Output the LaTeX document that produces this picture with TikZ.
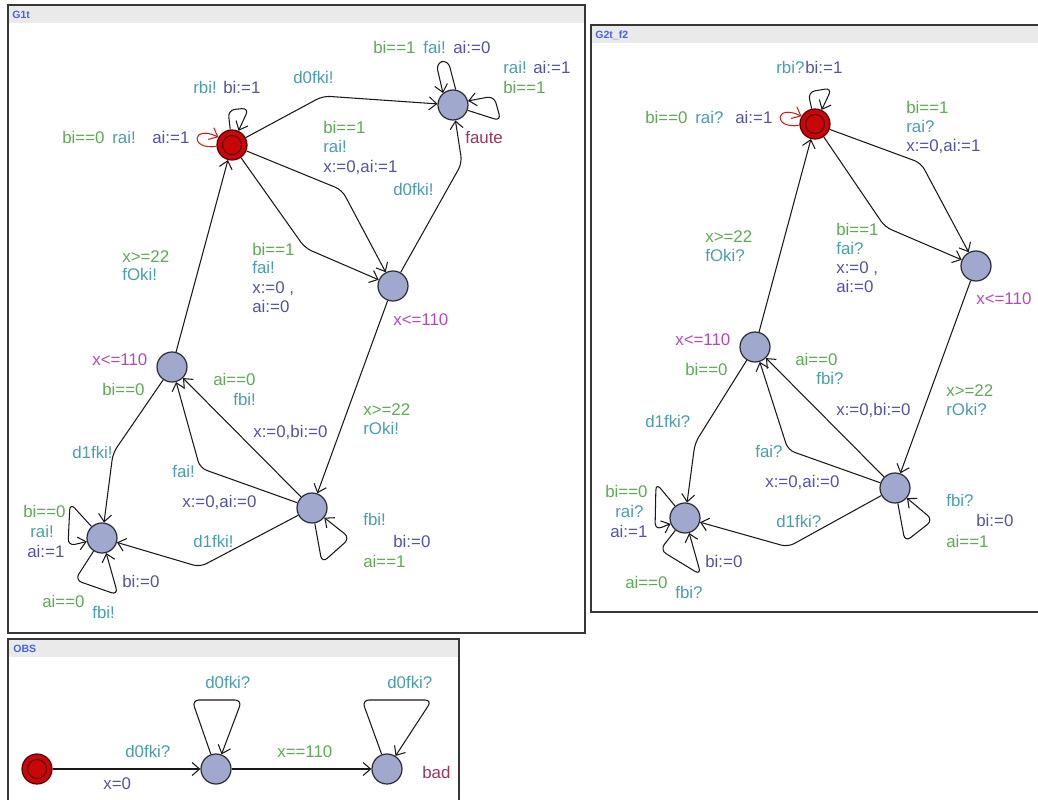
\documentclass[tikz,border=0pt]{standalone}
\usepackage{fontspec}
\setmainfont{Liberation Sans}
\usepackage{tikz}
\usetikzlibrary{arrows.meta}
\definecolor{guardgreen}{RGB}{92,170,82}
\definecolor{synccyan}{RGB}{72,158,172}
\definecolor{updblue}{RGB}{82,82,168}
\definecolor{invpink}{RGB}{180,72,184}
\definecolor{namered}{RGB}{155,52,92}
\definecolor{statefill}{RGB}{160,168,206}
\definecolor{stateline}{RGB}{45,45,55}
\definecolor{initred}{RGB}{200,8,8}
\definecolor{initline}{RGB}{90,0,0}
\definecolor{loopred}{RGB}{205,30,30}
\definecolor{edgeblack}{RGB}{25,25,25}
\definecolor{hdrgray}{RGB}{234,234,234}
\definecolor{hdrblue}{RGB}{70,100,225}
\definecolor{framegray}{RGB}{55,55,55}
\tikzset{
  loc/.style={circle, draw=stateline, fill=statefill, minimum size=0.6cm,
    inner sep=0pt, line width=0.7pt},
  initloc/.style={loc, draw=initline, fill=initred,
    path picture={\draw[initline, line width=0.6pt] (path picture bounding box.center) circle (0.19cm);}},
  trans/.style={-{Straight Barb[length=1.5mm, width=2.6mm]}, line width=0.6pt,
    color=edgeblack, rounded corners=4pt},
  redtrans/.style={trans, color=loopred},
  lab/.style={anchor=base west, inner sep=0pt, yshift=-3.3pt,
    font=\fontsize{9.6}{11}\selectfont},
  guard/.style={lab, text=guardgreen},
  sync/.style={lab, text=synccyan},
  upd/.style={lab, text=updblue},
  inv/.style={lab, text=invpink},
  locname/.style={lab, text=namered},
  panel/.style={draw=framegray, line width=0.9pt},
  header/.style={fill=hdrgray},
  ptitle/.style={anchor=west, inner sep=0pt, text=hdrblue,
    font=\fontsize{6}{7}\selectfont\bfseries}
}
\begin{document}
\begin{tikzpicture}[x=0.02cm, y=-0.02cm]
  \useasboundingbox (0,0) rectangle (1038,800);
  \clip (0,0) rectangle (1038,800);

  % ---------- G1t ----------
  \draw[panel] (8,5) rectangle (585,633);
  \fill[header] (9,6) rectangle (584,23);
  \node[ptitle] (tG1) at (12,15) {G1t};

  % locations
  \node[initloc] (A) at (232,145) {};
  \node[loc] (F) at (453,105) {};
  \node[loc] (B) at (393,286) {};
  \node[loc] (C) at (172,367) {};
  \node[loc] (D) at (312,508) {};
  \node[loc] (E) at (102,538) {};
  \node[locname] (nF) at (465,138) {faute};
  \node[inv] (iB) at (393,320) {x<=110};
  \node[inv] (iC) at (92,360) {x<=110};

  % nails
  \coordinate (kA1) at (228,110);
  \coordinate (kA2) at (249,108);
  \coordinate (kAF) at (323,96);
  \coordinate (kAB1) at (342,190);
  \coordinate (kAB2) at (305,248);
  \coordinate (kBF) at (462,163);
  \coordinate (kF1) at (448,60);
  \coordinate (kF2) at (436,63);
  \coordinate (kF3) at (501,121);
  \coordinate (kF4) at (494,96);
  \coordinate (kCE) at (113,453);
  \coordinate (kDC) at (200,468);
  \coordinate (kDE) at (200,567);
  \coordinate (kD1) at (322,563);
  \coordinate (kD2) at (350,538);
  \coordinate (kE1) at (70,503);
  \coordinate (kE2) at (68,546);
  \coordinate (kE3) at (75,580);
  \coordinate (kE4) at (118,595);

  % loops on the initial location
  \draw[trans] (A) -- (kA1) -- (kA2) -- (A);
  \node[sync] (sA1) at (193,88) {rbi!};
  \node[upd] (uA1) at (223,88) {bi:=1};
  \draw[redtrans] (A.185) .. controls +(-27,4) and +(-27,-13) .. (A.150);
  \node[guard] (gA2) at (62,138) {bi==0};
  \node[sync] (sA2) at (112,138) {rai!};
  \node[upd] (uA2) at (152,138) {ai:=1};

  % A to faute
  \draw[trans] (A) -- (kAF) -- (F);
  \node[sync] (sAF) at (293,78) {d0fki!};

  % A to B
  \draw[trans] (A) -- (kAB1) -- (B);
  \node[guard] (gAB1) at (323,128) {bi==1};
  \node[sync] (sAB1) at (323,147) {rai!};
  \node[upd] (uAB1) at (323,167) {x:=0,ai:=1};
  \draw[trans] (A) -- (kAB2) -- (B);
  \node[guard] (gAB2) at (252,250) {bi==1};
  \node[sync] (sAB2) at (252,268) {fai!};
  \node[upd] (uAB2) at (252,288) {x:=0 ,};
  \node[upd] (vAB2) at (252,307) {ai:=0};

  % B to faute
  \draw[trans] (B) -- (kBF) -- (F);
  \node[sync] (sBF) at (393,190) {d0fki!};

  % loops on faute
  \draw[trans] (F.80) -- (kF1) -- (kF2) -- (F.130);
  \node[guard] (gF1) at (373,48) {bi==1};
  \node[sync] (sF1) at (423,48) {fai!};
  \node[upd] (uF1) at (453,48) {ai:=0};
  \draw[trans] (F.-20) -- (kF3) -- (kF4) -- (F.15);
  \node[sync] (sF2) at (503,68) {rai!};
  \node[upd] (uF2) at (533,68) {ai:=1};
  \node[guard] (gF2) at (503,88) {bi==1};

  % B to D
  \draw[trans] (B) -- (D);
  \node[guard] (gBD) at (363,410) {x>=22};
  \node[sync] (sBD) at (363,429) {rOki!};

  % C to A
  \draw[trans] (C) -- (A);
  \node[guard] (gCA) at (122,257) {x>=22};
  \node[sync] (sCA) at (122,275) {fOki!};

  % C to E
  \draw[trans] (C) -- (kCE) -- (E);
  \node[guard] (gCE) at (102,390) {bi==0};
  \node[sync] (sCE) at (72,453) {d1fki!};

  % D to C
  \draw[trans] (D) -- (C);
  \node[guard] (gDC1) at (213,380) {ai==0};
  \node[sync] (sDC1) at (233,400) {fbi!};
  \node[upd] (uDC1) at (253,432) {x:=0,bi:=0};
  \draw[trans] (D) -- (kDC) -- (C);
  \node[sync] (sDC2) at (172,472) {fai!};
  \node[upd] (uDC2) at (182,502) {x:=0,ai:=0};

  % D to E
  \draw[trans] (D) -- (kDE) -- (E);
  \node[sync] (sDE) at (193,542) {d1fki!};

  % loop on D
  \draw[trans] (D) -- (kD1) -- (kD2) -- (D);
  \node[sync] (sD) at (363,520) {fbi!};
  \node[upd] (uD) at (393,542) {bi:=0};
  \node[guard] (gD) at (363,562) {ai==1};

  % loops on E
  \draw[trans] (E) -- (kE1) -- (kE2) -- (E);
  \node[guard] (gE1) at (23,512) {bi==0};
  \node[sync] (sE1) at (30,532) {rai!};
  \node[upd] (uE1) at (27,552) {ai:=1};
  \draw[trans] (E) -- (kE3) -- (kE4) -- (E);
  \node[upd] (uE2) at (122,582) {bi:=0};
  \node[guard] (gE2) at (42,602) {ai==0};
  \node[sync] (sE2) at (92,613) {fbi!};

  % ---------- G2t_f2 ----------
  \draw[panel] (591,25) rectangle (1050,612);
  \fill[header] (592,26) rectangle (1050,43);
  \node[ptitle] (tG2) at (595,35) {G2t\_f2};

  % locations
  \node[initloc] (A2) at (815,124) {};
  \node[loc] (B2) at (976,266) {};
  \node[loc] (C2) at (755,347) {};
  \node[loc] (D2) at (895,488) {};
  \node[loc] (E2) at (685,518) {};
  \node[inv] (iB2) at (976,299) {x<=110};
  \node[inv] (iC2) at (675,340) {x<=110};

  % nails
  \coordinate (kA21) at (808,92);
  \coordinate (kA22) at (832,88);
  \coordinate (kA2B1) at (921,163);
  \coordinate (kA2B2) at (885,227);
  \coordinate (kC2E2) at (695,443);
  \coordinate (kD2C2) at (788,450);
  \coordinate (kD2E2) at (788,547);
  \coordinate (kD21) at (905,542);
  \coordinate (kD22) at (933,520);
  \coordinate (kE21) at (656,483);
  \coordinate (kE22) at (655,530);
  \coordinate (kE23) at (660,550);
  \coordinate (kE24) at (701,575);

  % loops on the initial location
  \draw[trans] (A2) -- (kA21) -- (kA22) -- (A2);
  \node[sync] (sA21) at (776,68) {rbi?};
  \node[upd] (uA21) at (805,68) {bi:=1};
  \draw[redtrans] (A2.185) .. controls +(-27,4) and +(-27,-13) .. (A2.150);
  \node[guard] (gA22) at (645,118) {bi==0};
  \node[sync] (sA22) at (695,118) {rai?};
  \node[upd] (uA22) at (735,118) {ai:=1};

  % A2 to B2
  \draw[trans] (A2) -- (kA2B1) -- (B2);
  \node[guard] (gA2B1) at (906,108) {bi==1};
  \node[sync] (sA2B1) at (906,127) {rai?};
  \node[upd] (uA2B1) at (906,146) {x:=0,ai:=1};
  \draw[trans] (A2) -- (kA2B2) -- (B2);
  \node[guard] (gA2B2) at (836,230) {bi==1};
  \node[sync] (sA2B2) at (836,249) {fai?};
  \node[upd] (uA2B2) at (836,268) {x:=0 ,};
  \node[upd] (vA2B2) at (836,287) {ai:=0};

  % B2 to D2
  \draw[trans] (B2) -- (D2);
  \node[guard] (gB2D2) at (946,391) {x>=22};
  \node[sync] (sB2D2) at (946,410) {rOki?};

  % C2 to A2
  \draw[trans] (C2) -- (A2);
  \node[guard] (gC2A2) at (705,237) {x>=22};
  \node[sync] (sC2A2) at (705,256) {fOki?};

  % C2 to E2
  \draw[trans] (C2) -- (kC2E2) -- (E2);
  \node[guard] (gC2E2) at (685,370) {bi==0};
  \node[sync] (sC2E2) at (645,422) {d1fki?};

  % D2 to C2
  \draw[trans] (D2) -- (C2);
  \node[guard] (gD2C21) at (795,360) {ai==0};
  \node[sync] (sD2C21) at (816,379) {fbi?};
  \node[upd] (uD2C21) at (836,410) {x:=0,bi:=0};
  \draw[trans] (D2) -- (kD2C2) -- (C2);
  \node[sync] (sD2C22) at (755,452) {fai?};
  \node[upd] (uD2C22) at (765,482) {x:=0,ai:=0};

  % D2 to E2
  \draw[trans] (D2) -- (kD2E2) -- (E2);
  \node[sync] (sD2E2) at (776,522) {d1fki?};

  % loop on D2
  \draw[trans] (D2) -- (kD21) -- (kD22) -- (D2);
  \node[sync] (sD2) at (946,501) {fbi?};
  \node[upd] (uD2) at (976,521) {bi:=0};
  \node[guard] (gD2) at (946,542) {ai==1};

  % loops on E2
  \draw[trans] (E2) -- (kE21) -- (kE22) -- (E2);
  \node[guard] (gE21) at (605,492) {bi==0};
  \node[sync] (sE21) at (615,512) {rai?};
  \node[upd] (uE21) at (610,532) {ai:=1};
  \draw[trans] (E2) -- (kE23) -- (kE24) -- (E2);
  \node[upd] (uE22) at (705,562) {bi:=0};
  \node[guard] (gE22) at (625,583) {ai==0};
  \node[sync] (sE22) at (675,593) {fbi?};

  % ---------- OBS ----------
  \draw[panel] (8,639) rectangle (459,812);
  \fill[header] (9,640) rectangle (458,657);
  \node[ptitle] (tOBS) at (13,649) {OBS};

  \node[initloc] (O1) at (37,769) {};
  \node[loc] (O2) at (216,769) {};
  \node[loc] (O3) at (387,769) {};
  \node[locname] (nO3) at (422,773) {bad};

  \coordinate (kO21) at (192,700);
  \coordinate (kO22) at (242,700);
  \coordinate (kO31) at (362,700);
  \coordinate (kO32) at (432,700);

  \draw[trans] (O1) -- (O2);
  \node[sync] (sO12) at (125,752) {d0fki?};
  \node[upd] (uO12) at (103,784) {x=0};
  \draw[trans] (O2) -- (O3);
  \node[guard] (gO23) at (277,752) {x==110};
  \draw[trans] (O2) -- (kO21) -- (kO22) -- (O2);
  \node[sync] (sO2) at (205,683) {d0fki?};
  \draw[trans] (O3) -- (kO31) -- (kO32) -- (O3);
  \node[sync] (sO3) at (387,683) {d0fki?};
\end{tikzpicture}
\end{document}
